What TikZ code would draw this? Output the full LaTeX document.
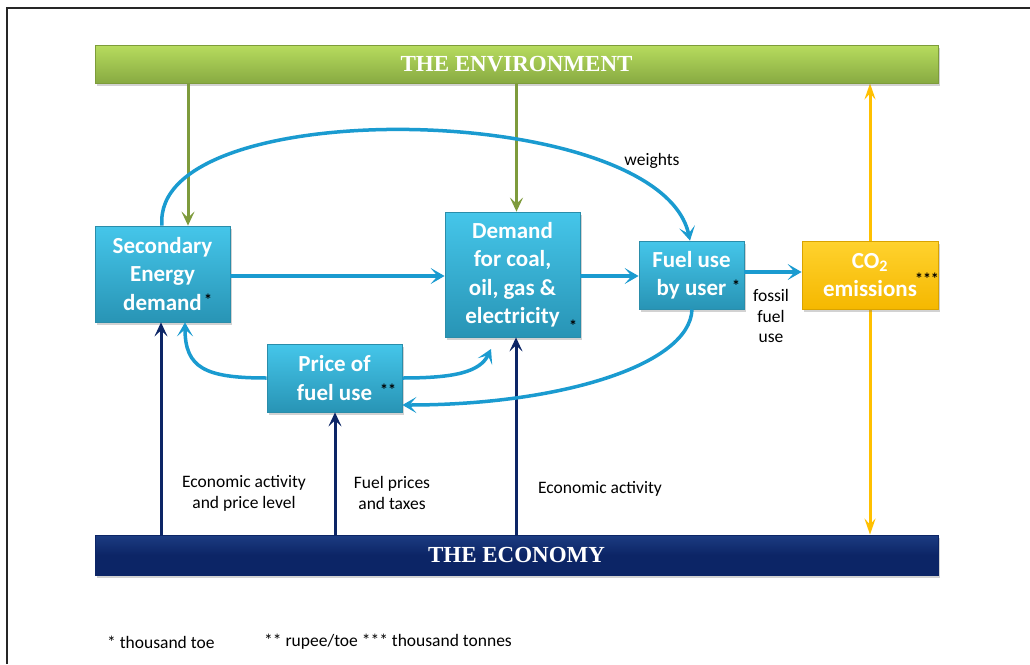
\documentclass[tikz,border=0pt]{standalone}
\usepackage{fontspec}
\setmainfont{Carlito}
\newfontfamily\hdrfont{Liberation Serif}
\usetikzlibrary{arrows.meta,shadows,backgrounds}
\definecolor{cyantop}{HTML}{45C6EA}
\definecolor{cyanbot}{HTML}{2894B5}
\definecolor{cyanedge}{HTML}{2A8DAA}
\definecolor{arrowblue}{HTML}{1A9BD0}
\definecolor{navy}{HTML}{0C2566}
\definecolor{navytop}{HTML}{1C3C82}
\definecolor{grntop}{HTML}{B7DC5E}
\definecolor{grnbot}{HTML}{88AA42}
\definecolor{grnedge}{HTML}{7D9C3A}
\definecolor{grnarrow}{HTML}{7E9B3C}
\definecolor{goldtop}{HTML}{FFD22E}
\definecolor{goldbot}{HTML}{F5B800}
\definecolor{goldedge}{HTML}{D9A300}
\definecolor{goldarrow}{HTML}{FFC000}
\begin{document}
\begin{tikzpicture}[x=1pt,y=-1pt,
  shadowed/.style={drop shadow={opacity=0.35,shadow xshift=2pt,shadow yshift=-3pt}},
  cbox/.style={rectangle, inner sep=0pt, top color=cyantop, bottom color=cyanbot, draw=cyanedge, line width=0.8pt, shadowed, text=white, font=\bfseries\fontsize{23}{28.5}\selectfont, align=center},
  ybox/.style={rectangle, inner sep=0pt, top color=goldtop, bottom color=goldbot, draw=goldedge, line width=0.8pt, shadowed, text=white, font=\bfseries\fontsize{23}{28.5}\selectfont, align=center},
  gbar/.style={rectangle, inner sep=0pt, top color=grntop, bottom color=grnbot, draw=grnedge, line width=0.8pt, shadowed, text=white, font=\hdrfont\bfseries\fontsize{23}{26}\selectfont},
  nbar/.style={rectangle, inner sep=0pt, top color=navytop, bottom color=navy, middle color=navy, draw=navy, line width=0.8pt, shadowed, text=white, font=\hdrfont\bfseries\fontsize{23}{26}\selectfont},
  lbl/.style={inner sep=0pt, align=center, font=\fontsize{17.5}{21}\selectfont},
  ast/.style={inner sep=0pt, font=\bfseries\fontsize{16}{16}\selectfont},
  barrow/.style={draw=arrowblue, line width=3.5pt, -{Stealth[length=14pt,width=16pt,inset=7pt]}},
  narrow/.style={draw=navy, line width=3pt, -{Stealth[length=14pt,width=13pt,inset=6pt]}},
  garrow/.style={draw=grnarrow, line width=3pt, -{Stealth[length=14pt,width=13pt,inset=6pt]}},
  yarrow/.style={draw=goldarrow, line width=3pt, {Stealth[length=16pt,width=11pt,inset=6pt]}-{Stealth[length=16pt,width=11pt,inset=6pt]}}
]
\useasboundingbox (0,0) rectangle (1030,664);
\begin{scope}[on background layer]
\fill[white] (0,0) rectangle (1030,664);
\end{scope}
\draw[line width=2pt, black!85] (7,664) -- (7,8) -- (1030,8);

% bars
\node[gbar, minimum width=843pt, minimum height=38pt] (env) at (516.5,64) {THE ENVIRONMENT};
\node[nbar, minimum width=843pt, minimum height=40pt] (eco) at (516.5,555) {THE ECONOMY};

% boxes
\node[cbox, minimum width=135pt, minimum height=96pt] (sed) at (162.5,274) {Secondary\\Energy\\demand};
\node[cbox, minimum width=135pt, minimum height=125pt] (dem) at (512.5,274.5) {Demand\\for coal,\\oil, gas \&\\electricity};
\node[cbox, minimum width=105pt, minimum height=68pt] (fu) at (691.5,275) {Fuel use\\by user};
\node[ybox, minimum width=136pt, minimum height=68pt] (co2) at (870,275) {CO\textsubscript{2}\\emissions};
\node[cbox, minimum width=135pt, minimum height=68pt] (pr) at (334.5,378) {Price of\\fuel use};

% asterisks
\node[ast] (a1) at (208,300) {*};
\node[ast] (a2) at (573,326) {*};
\node[ast] (a3) at (736,286) {*};
\node[ast] (a4) at (388,390) {**};
\node[ast] (a5) at (927,279) {***};

% yellow double arrow behind CO2 box
\begin{scope}[on background layer]
\draw[yarrow] ([xshift=353.5pt]env.south) -- ([xshift=353.5pt]eco.north);
\end{scope}

% green arrows
\draw[garrow] ([xshift=-328.5pt]env.south) -- ([xshift=25.5pt]sed.north);
\draw[garrow] (env.south) -- ([xshift=4pt]dem.north);

% navy arrows
\draw[narrow] ([xshift=-355.5pt]eco.north) -- ([xshift=-1.5pt]sed.south);
\draw[narrow] ([xshift=-181.5pt]eco.north) -- ([xshift=0.5pt]pr.south);
\draw[narrow] ([xshift=-0.5pt]eco.north) -- ([xshift=3.5pt]dem.south);

% blue arrows
\draw[barrow] ([yshift=-2pt]sed.east) -- ([yshift=-1.5pt]dem.west);
\draw[barrow] ([yshift=-1.5pt]dem.east) -- ([yshift=-1pt]fu.west);
\draw[barrow] ([yshift=3pt]fu.east) -- ([yshift=3pt]co2.west);
\draw[barrow] ([xshift=-0.5pt]sed.north) .. controls (150,92) and (660,100) .. ([xshift=-1.5pt]fu.north);
\draw[barrow] (pr.west) .. controls (205,378) and (185,368) .. ([xshift=22.5pt]sed.south);
\coordinate (pd) at (491,349);
\draw[barrow] (pr.east) .. controls (455,378) and (480,372) .. (pd);
\draw[barrow] ([xshift=0.5pt]fu.south) .. controls (690,365) and (560,405) .. ([yshift=-27pt]pr.east);

% labels
\node[lbl] (lw) at (652,161) {weights};
\node[lbl, font=\fontsize{17.5}{20.5}\selectfont] (lf) at (771,316) {fossil\\fuel\\use};
\node[lbl] (le1) at (244,493) {Economic activity\\and price level};
\node[lbl] (le2) at (392,493) {Fuel prices\\and taxes};
\node[lbl] (le3) at (600,489) {Economic activity};

% footnotes
\node[lbl, anchor=west] (f1) at (107,642) {* thousand toe};
\node[lbl, anchor=west] (f2) at (264,642) {** rupee/toe *** thousand tonnes};
\end{tikzpicture}
\end{document}
